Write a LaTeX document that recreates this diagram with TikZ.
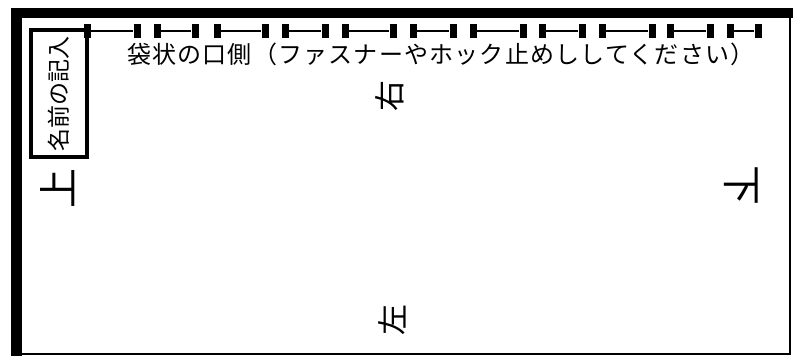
\documentclass[tikz,border=0pt]{standalone}
\usepackage{fontspec}
\setmainfont{Noto Sans CJK JP}

\tikzset{
  zbar/.style={fill=black, minimum width=7pt, minimum height=14pt, inner sep=0pt},
  zline/.style={line width=1.8pt},
  side/.style={inner sep=0pt, font=\fontsize{40}{40}\selectfont},
  mid/.style={inner sep=0pt, font=\fontsize{31}{31}\selectfont}
}

\begin{document}
\begin{tikzpicture}[x=1pt,y=-1pt]
  \useasboundingbox (0,0) rectangle (795,356);
  % frame
  \draw[line width=2pt] (16,13) -- (790,13) -- (790,354) -- (16,354);
  \fill (11,8) rectangle (22,356);
  \fill (11,8) rectangle (793,18);
  % name box
  \node[draw, line width=3.5pt, rotate=90, minimum width=127pt, minimum height=56pt,
        inner sep=0pt, font=\fontsize{23}{23}\selectfont] (namebox) at (59,93.5) {名前の記入};
  % zipper
  \foreach \a/\b [count=\i] in {87/137,157/195,217/265,285/325,345/393,413/453,
                                473/523,542/582,602/652,670/710,730/758} {
    \node[zbar] (zl\i) at (\a,31) {};
    \node[zbar] (zr\i) at (\b,31) {};
    \draw[zline] (zl\i) -- (zr\i);
  }
  \node[anchor=west, inner sep=0pt,
        font=\fontsize{24}{24}\selectfont\addfontfeature{LetterSpace=5}] (mouth) at (127,54)
    {袋状の口側（ファスナーやホック止めししてください）};
  % sides
  \node[side, rotate=90] (ue) at (58,188) {上};
  \node[mid, rotate=90] (migi) at (390,96) {右};
  \node[mid, rotate=90] (hidari) at (392,320) {左};
  \node[side, rotate=-90] (shita) at (741,185) {下};
\end{tikzpicture}
\end{document}
